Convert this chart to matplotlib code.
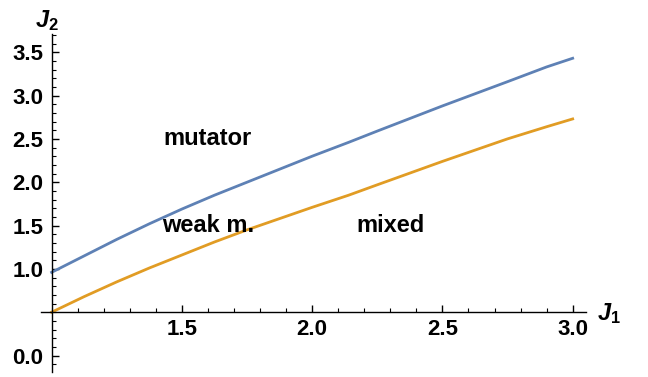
import matplotlib
matplotlib.use("Agg")
import matplotlib.pyplot as plt
from matplotlib.ticker import MultipleLocator, FixedLocator

plt.rcParams['font.family'] = ['Liberation Sans', 'DejaVu Sans']
plt.rcParams['mathtext.fontset'] = 'custom'
plt.rcParams['mathtext.it'] = 'Liberation Sans:italic:bold'
plt.rcParams['mathtext.rm'] = 'Liberation Sans:bold'

# boundary curves
j1 = [1.0, 1.125, 1.25, 1.375, 1.5, 1.625, 1.75, 2.0, 2.14, 2.25, 2.5, 2.75, 2.9, 3.0]
upper = [0.96, 1.15, 1.34, 1.52, 1.69, 1.85, 2.00, 2.30, 2.46, 2.59, 2.88, 3.16, 3.33, 3.43]
lower = [0.50, 0.68, 0.85, 1.01, 1.16, 1.31, 1.45, 1.71, 1.85, 1.97, 2.24, 2.50, 2.64, 2.73]

regions = ["mutator", "weak m.", "mixed"]
region_x = [1.6, 1.6, 2.3]
region_y = [2.5, 1.5, 1.5]

xticks = [1.5, 2.0, 2.5, 3.0]
yticks = [0.0, 1.0, 1.5, 2.0, 2.5, 3.0, 3.5]

fig = plt.figure(figsize=(6.48, 3.77), dpi=100)
ax = fig.add_axes([40.7 / 648, 5 / 377, 545 / 648, 338 / 377])

ax.plot(j1, upper, color='#5E81B5', lw=2.0, solid_joinstyle='round')
ax.plot(j1, lower, color='#E19C24', lw=2.0, solid_joinstyle='round')

for name, x, y in zip(regions, region_x, region_y):
    ax.text(x, y, name, ha='center', va='center', fontsize=17, fontweight='bold')

ax.set_xlim(0.958, 3.05)
ax.set_ylim(-0.19, 3.71)

for s in ['top', 'right']:
    ax.spines[s].set_visible(False)
ax.spines['left'].set_position(('data', 1.0))
ax.spines['bottom'].set_position(('data', 0.5))
ax.spines['left'].set_linewidth(1.0)
ax.spines['bottom'].set_linewidth(1.0)

ax.xaxis.set_major_locator(FixedLocator(xticks))
ax.yaxis.set_major_locator(FixedLocator(yticks))
ax.xaxis.set_minor_locator(MultipleLocator(0.1))
ax.yaxis.set_minor_locator(MultipleLocator(0.1))
ax.set_xticklabels([f"{v:.1f}" for v in xticks])
ax.set_yticklabels([f"{v:.1f}" for v in yticks])

ax.tick_params(axis='x', which='both', direction='in', pad=5)
ax.tick_params(axis='y', which='both', direction='in', pad=6)
ax.tick_params(which='major', length=5, width=1.0, labelsize=16)
ax.tick_params(which='minor', length=3, width=0.8)
for lab in ax.get_xticklabels() + ax.get_yticklabels():
    lab.set_fontweight('bold')

ax.text(3.14, 0.48, r"$J_1$", ha='center', va='center', fontsize=17)
ax.text(0.98, 3.87, r"$J_2$", ha='center', va='center', fontsize=17, clip_on=False)

fig.savefig("out.png", dpi=100)
